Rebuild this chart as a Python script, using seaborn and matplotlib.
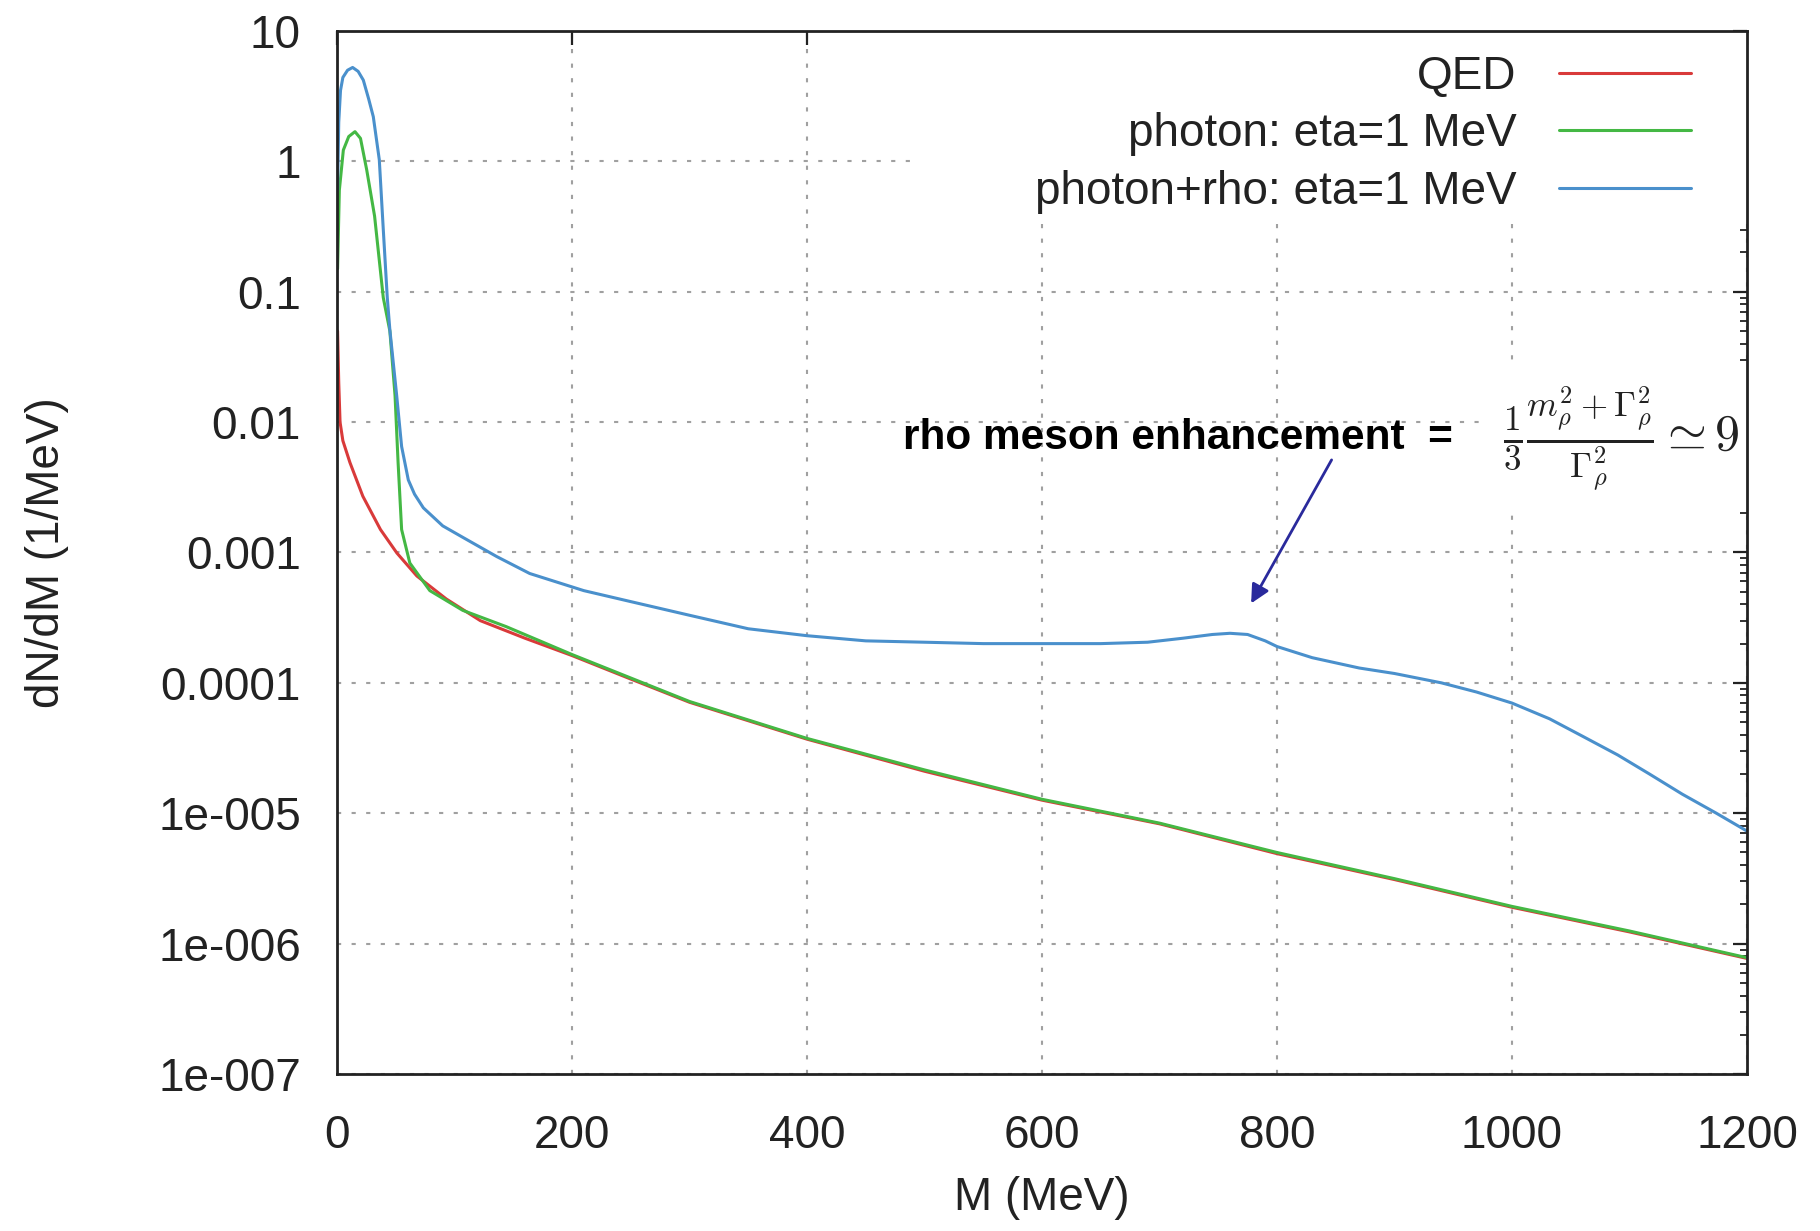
import numpy as np
import pandas as pd
import matplotlib
matplotlib.use("Agg")
import matplotlib.pyplot as plt
import matplotlib.patches as mpatches
from matplotlib.ticker import LogLocator, NullFormatter
import seaborn as sns

# ---------------- data ----------------
series_names = ["QED", "photon: eta=1 MeV", "photon+rho: eta=1 MeV"]

qed_M = [0.5, 1.5, 2.6, 5, 11, 22, 37, 51, 68, 93, 122, 160, 200, 250, 300,
         400, 500, 600, 700, 800, 900, 1000, 1100, 1200]
qed_val = [0.05, 0.02, 0.01, 0.0072, 0.0049, 0.0027, 0.0015, 0.00099, 0.00066,
           0.00044, 0.0003, 0.00022, 0.000162, 0.000107, 7.1e-5, 3.7e-5, 2.1e-5,
           1.26e-5, 8.3e-6, 4.9e-6, 3.1e-6, 1.9e-6, 1.23e-6, 7.7e-7]

photon_M = [0.5, 2, 5.4, 10, 15.3, 20, 25.3, 32, 39.4, 45, 49.4, 52, 55, 62,
            79, 107, 144, 200, 250, 300, 400, 500, 600, 700, 800, 900, 1000,
            1100, 1200]
photon_val = [0.15, 0.6, 1.22, 1.55, 1.69, 1.5, 0.86, 0.38, 0.09, 0.05, 0.016,
              0.0049, 0.0015, 0.00083, 0.00051, 0.00036, 0.00027, 0.000165,
              1.09e-4, 7.2e-5, 3.75e-5, 2.15e-5, 1.28e-5, 8.4e-6, 5.0e-6,
              3.15e-6, 1.93e-6, 1.25e-6, 7.8e-7]

rho_M = [0.5, 1.5, 3, 5, 9, 13.3, 18, 22.4, 27, 30.9, 36, 39.4, 42.8, 45,
         50.8, 55, 60.7, 66, 73.5, 90, 107.5, 136, 164, 210, 250, 300, 350,
         400, 450, 500, 550, 600, 650, 690, 720, 745, 760, 775, 790, 800, 830,
         870, 900, 940, 970, 1000, 1032, 1060, 1090, 1117, 1145, 1174, 1200]
rho_val = [0.6, 2.0, 3.5, 4.4, 5.0, 5.25, 4.9, 4.2, 3.0, 2.2, 1.03, 0.3, 0.09,
           0.051, 0.016, 0.0065, 0.0036, 0.0028, 0.0022, 0.0016, 0.0013,
           0.00093, 0.00069, 0.00051, 0.00042, 0.00033, 0.00026, 0.00023,
           0.00021, 0.000205, 0.0002, 0.0002, 0.0002, 0.000205, 0.00022,
           0.000235, 0.00024, 0.000235, 0.00021, 0.00019, 0.000156, 0.00013,
           0.000118, 0.0001, 8.5e-5, 7.0e-5, 5.3e-5, 3.9e-5, 2.8e-5, 2.0e-5,
           1.4e-5, 1.0e-5, 7.3e-6]

x_ticks = [0, 200, 400, 600, 800, 1000, 1200]
y_ticks = [1e1, 1e0, 1e-1, 1e-2, 1e-3, 1e-4, 1e-5, 1e-6, 1e-7]
y_tick_labels = ["10", "1", "0.1", "0.01", "0.001", "0.0001",
                 "1e-005", "1e-006", "1e-007"]

annot_text = "rho meson enhancement  ="
annot_formula = r"$\frac{1}{3}\frac{m_\rho^2+\Gamma_\rho^2}{\Gamma_\rho^2}\simeq 9$"
arrow_head = (778, 4.07e-4)
arrow_tail = (846.5, 5.13e-3)
text_pos = (482, 7.6e-3)
formula_pos = (992, 7.4e-3)

# ---------------- build table ----------------
df = pd.concat([
    pd.DataFrame({"M": qed_M, "dNdM": qed_val, "series": series_names[0]}),
    pd.DataFrame({"M": photon_M, "dNdM": photon_val, "series": series_names[1]}),
    pd.DataFrame({"M": rho_M, "dNdM": rho_val, "series": series_names[2]}),
], ignore_index=True)

palette = {series_names[0]: "#d93a3a",
           series_names[1]: "#44b844",
           series_names[2]: "#4a90cc"}

# ---------------- style ----------------
sns.set_style("white")
plt.rcParams["font.family"] = ["Liberation Sans", "DejaVu Sans"]
plt.rcParams["mathtext.fontset"] = "cm"
text_color = "#222222"

fig = plt.figure(figsize=(18.2, 12.31), dpi=100)
ax = fig.add_axes([0.18516, 0.12754, 0.7747, 0.8473])

sns.lineplot(data=df, x="M", y="dNdM", hue="series", hue_order=series_names,
             palette=palette, estimator=None, sort=True, linewidth=2.2,
             legend=False, ax=ax)

ax.set_yscale("log")
ax.set_xlim(0, 1200)
ax.set_ylim(1e-7, 10)

ax.set_xticks(x_ticks)
ax.set_xticklabels([str(v) for v in x_ticks])
ax.set_yticks(y_ticks)
ax.set_yticklabels(y_tick_labels)
ax.yaxis.set_minor_locator(LogLocator(base=10, subs=np.arange(2, 10)))
ax.yaxis.set_minor_formatter(NullFormatter())

ax.tick_params(which="both", direction="in", top=True, right=True,
               colors=text_color)
ax.tick_params(which="major", length=10, width=1.6, labelsize=33)
ax.tick_params(which="minor", length=5, width=1.3)
ax.tick_params(axis="x", which="major", pad=29)
ax.tick_params(axis="y", which="major", pad=26)

for sp in ax.spines.values():
    sp.set_color(text_color)
    sp.set_linewidth(2.0)

ax.set_axisbelow(True)
ax.grid(True, which="major", linestyle=(0, (2, 5)), color="#a0a0a0",
        linewidth=1.5)

# white area behind the key
ax.add_patch(mpatches.Rectangle((0.411, 0.822), 0.589, 0.178,
                                transform=ax.transAxes, facecolor="white",
                                edgecolor="none", zorder=1.5))

ax.set_xlabel("M (MeV)", fontsize=33, color=text_color)
ax.xaxis.set_label_coords(0.5, -0.098)
ax.set_ylabel("dN/dM (1/MeV)", fontsize=33, color=text_color)
ax.yaxis.set_label_coords(-0.19, 0.5)

# legend (text left of line, like gnuplot key)
handles = ax.get_lines()[:3]
ax.legend(handles, series_names, loc="upper right",
          bbox_to_anchor=(0.960, 0.977), markerfirst=False,
          frameon=False, fontsize=33, handlelength=2.88, handletextpad=0.92,
          borderpad=0, borderaxespad=0, labelspacing=0.29,
          labelcolor=text_color)

# annotation
ax.annotate("", xy=arrow_head, xytext=arrow_tail,
            arrowprops=dict(arrowstyle="-|>", color="#2a2a9c", lw=2,
                            mutation_scale=28, shrinkA=0, shrinkB=0),
            zorder=5)
ax.text(text_pos[0], text_pos[1], annot_text, fontsize=30.5, fontweight="bold",
        color="black", ha="left", va="center", zorder=5)
ax.text(formula_pos[0], formula_pos[1], annot_formula, fontsize=36,
        color="#222222", ha="left", va="center", zorder=2.4,
        bbox=dict(facecolor="white", edgecolor="none", pad=12))

fig.savefig("out.png", dpi=100)
